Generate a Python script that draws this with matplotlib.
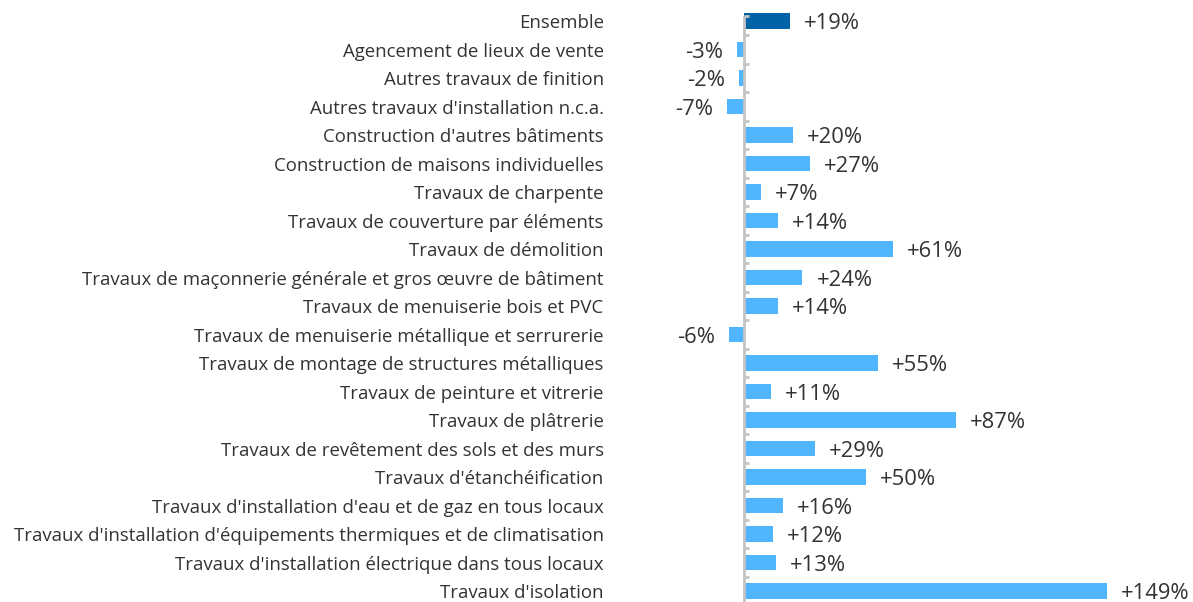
import matplotlib
matplotlib.use("Agg")
import matplotlib.pyplot as plt

plt.rcParams['font.family'] = ['Open Sans', 'DejaVu Sans']

categories = [
    "Ensemble",
    "Agencement de lieux de vente",
    "Autres travaux de finition",
    "Autres travaux d'installation n.c.a.",
    "Construction d'autres bâtiments",
    "Construction de maisons individuelles",
    "Travaux de charpente",
    "Travaux de couverture par éléments",
    "Travaux de démolition",
    "Travaux de maçonnerie générale et gros œuvre de bâtiment",
    "Travaux de menuiserie bois et PVC",
    "Travaux de menuiserie métallique et serrurerie",
    "Travaux de montage de structures métalliques",
    "Travaux de peinture et vitrerie",
    "Travaux de plâtrerie",
    "Travaux de revêtement des sols et des murs",
    "Travaux d'étanchéification",
    "Travaux d'installation d'eau et de gaz en tous locaux",
    "Travaux d'installation d'équipements thermiques et de climatisation",
    "Travaux d'installation électrique dans tous locaux",
    "Travaux d'isolation",
]
values = [19, -3, -2, -7, 20, 27, 7, 14, 61, 24, 14, -6, 55, 11, 87, 29, 50, 16, 12, 13, 149]

W, H = 1193, 602
fig = plt.figure(figsize=(W / 100, H / 100), dpi=100)

# axes placed in pixel terms: zero at x=744, rows 28.5 px apart
ax_left_px, ax_right_px = 612, 1193
px_per_unit = 2.436
xmin = -(744 - ax_left_px) / px_per_unit
xmax = xmin + (ax_right_px - ax_left_px) / px_per_unit
n = len(categories)
row = 28.5
top_px = 21 - row / 2
bot_px = top_px + row * n
ax = fig.add_axes([ax_left_px / W, 1 - bot_px / H,
                   (ax_right_px - ax_left_px) / W, (bot_px - top_px) / H])

dark = "#0063a8"
light = "#4fb5ff"
colors = [dark] + [light] * (n - 1)
y = list(range(n))
ax.barh(y, values, height=0.55, color=colors, zorder=2)

ax.set_xlim(xmin, xmax)
ax.set_ylim(n - 0.5, -0.5)

ax.set_yticks(y)
ax.set_yticklabels(categories, fontsize=13.4, color="#333333")
ax.tick_params(axis='y', length=0, pad=6)
ax.set_xticks([])
for s in ax.spines.values():
    s.set_visible(False)

# zero line with small marks between rows
axis_col = "#c4c4c4"
ax.plot([0, 0], [-0.18, n - 0.5], color=axis_col, lw=2, zorder=3, solid_capstyle='butt')
tick_w = 5 / px_per_unit
ax.hlines([-0.18] + [i + 0.5 for i in range(n - 1)], 0, tick_w, color=axis_col, lw=2, zorder=3)

# value labels, baseline set so the digits sit centred on the bar
gap = 14 / px_per_unit
base_off = 0.29
for yi, v in zip(y, values):
    lab = f"+{v}%" if v > 0 else f"{v}%"
    if v >= 0:
        ax.text(v + gap, yi + base_off, lab, ha='left', va='baseline', fontsize=15.8, color="#333333")
    else:
        ax.text(v - gap, yi + base_off, lab, ha='right', va='baseline', fontsize=15.8, color="#333333")

fig.savefig("out.png", dpi=100)
